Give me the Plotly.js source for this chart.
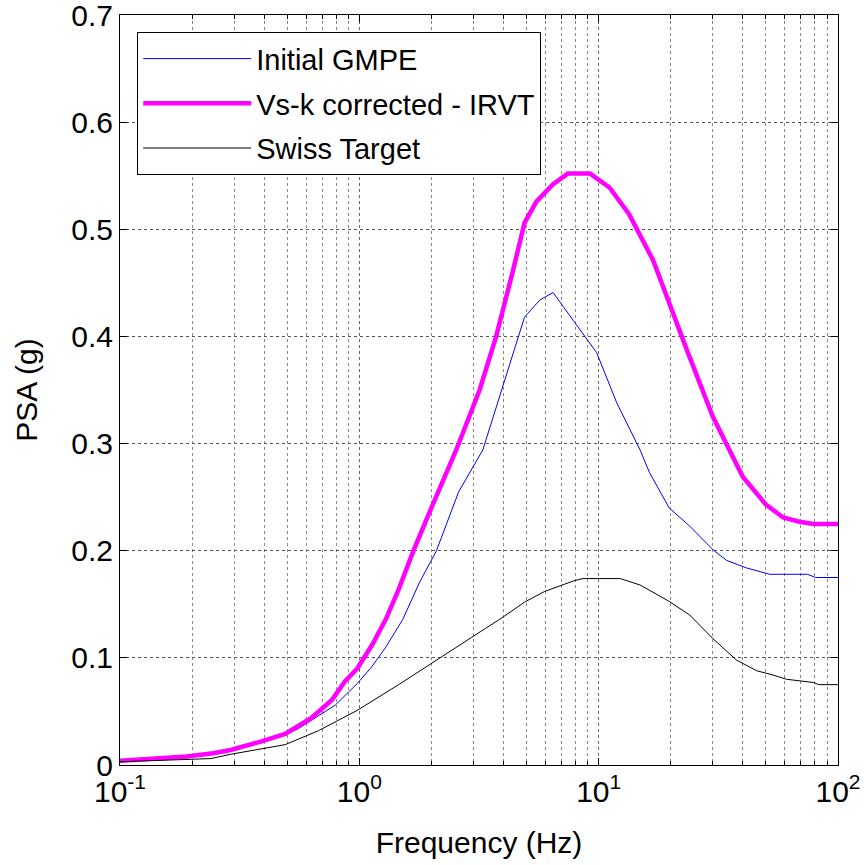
<!DOCTYPE html>
<html>
<head>
<meta charset="utf-8">
<script src="https://cdn.plot.ly/plotly-3.0.1.min.js"></script>
<style>html,body{margin:0;padding:0;background:#fff;}#chart{width:864px;height:865px;}</style>
</head>
<body>
<div id="chart"></div>
<script>
// Initial GMPE (blue)
var gmpeFreq = [0.1, 0.13, 0.19, 0.245, 0.29, 0.39, 0.49, 0.557, 0.794, 0.98, 1.13, 1.29, 1.52, 1.78, 2.1, 2.6, 3.28, 3.9, 4.9, 5.68, 6.45, 7.83, 9.8, 11.9, 14.9, 16.3, 19.7, 24, 30, 34.2, 41.4, 51.8, 74.5, 80.6, 100];
var gmpePSA  = [0.003, 0.005, 0.007, 0.010, 0.013, 0.021, 0.028, 0.034, 0.056, 0.076, 0.092, 0.110, 0.136, 0.170, 0.200, 0.255, 0.294, 0.347, 0.418, 0.434, 0.441, 0.415, 0.385, 0.338, 0.294, 0.273, 0.240, 0.223, 0.201, 0.191, 0.184, 0.178, 0.178, 0.175, 0.175];

// Vs-k corrected - IRVT (magenta)
var irvtFreq = [0.1, 0.13, 0.19, 0.245, 0.29, 0.39, 0.49, 0.63, 0.77, 0.87, 0.98, 1.13, 1.29, 1.46, 1.69, 2.0, 2.54, 3.18, 3.73, 4.38, 4.9, 5.5, 6.45, 7.43, 9.2, 11.1, 13.4, 16.9, 21.7, 23.4, 30, 40, 50, 59, 69, 79, 100];
var irvtPSA  = [0.004, 0.006, 0.008, 0.011, 0.014, 0.022, 0.029, 0.044, 0.061, 0.078, 0.090, 0.112, 0.136, 0.164, 0.201, 0.240, 0.294, 0.350, 0.400, 0.461, 0.506, 0.526, 0.542, 0.552, 0.552, 0.539, 0.514, 0.471, 0.406, 0.387, 0.325, 0.269, 0.243, 0.231, 0.227, 0.225, 0.225];

// Swiss Target (black)
var swissFreq = [0.1, 0.24, 0.29, 0.39, 0.49, 0.675, 0.98, 1.46, 2.16, 2.94, 3.98, 4.9, 5.95, 7.0, 7.9, 8.6, 12.3, 14.9, 19.6, 24, 30, 37.6, 45.7, 53.5, 61, 79, 83, 100];
var swissPSA  = [0.003, 0.006, 0.010, 0.015, 0.019, 0.032, 0.051, 0.075, 0.100, 0.119, 0.138, 0.152, 0.162, 0.168, 0.172, 0.174, 0.174, 0.168, 0.153, 0.140, 0.118, 0.098, 0.088, 0.084, 0.080, 0.077, 0.075, 0.075];

var xTickVals = [0.1, 1, 10, 100];
var xTickText = ['10<sup>-1</sup>', '10<sup>0</sup>', '10<sup>1</sup>', '10<sup>2</sup>'];
var yTickVals = [0, 0.1, 0.2, 0.3, 0.4, 0.5, 0.6, 0.7];
var yTickText = ['0', '0.1', '0.2', '0.3', '0.4', '0.5', '0.6', '0.7'];

var minorX = [];
[0.1, 1, 10].forEach(function (d) { for (var k = 2; k <= 9; k++) minorX.push(d * k); });

var FONT = 'Liberation Sans, Arial, sans-serif';

var traces = [
  {x: gmpeFreq, y: gmpePSA, name: 'Initial GMPE', type: 'scatter', mode: 'lines', legendgroup: 'a',
   line: {color: '#0000ff', width: 1}},
  {x: irvtFreq, y: irvtPSA, name: 'Vs-k corrected - IRVT', type: 'scatter', mode: 'lines', legendgroup: 'b',
   line: {color: '#ff00ff', width: 4.5}},
  {x: swissFreq, y: swissPSA, name: 'Swiss Target', type: 'scatter', mode: 'lines', legendgroup: 'c',
   line: {color: '#000000', width: 1}}
];

var layout = {
  width: 864, height: 865,
  margin: {l: 120, r: 26, t: 15, b: 100},
  paper_bgcolor: '#ffffff', plot_bgcolor: '#ffffff',
  font: {family: FONT, size: 30, color: '#000'},
  showlegend: true,
  legend: {
    x: 0.024, y: 0.977, xanchor: 'left', yanchor: 'top',
    bgcolor: '#ffffff', bordercolor: '#000', borderwidth: 1,
    font: {family: FONT, size: 29, color: '#000'},
    itemwidth: 108,
    traceorder: 'grouped',
    tracegroupgap: 4
  },
  xaxis: {
    type: 'log', range: [-1, 2],
    tickmode: 'array', tickvals: xTickVals, ticktext: xTickText,
    ticks: 'inside', ticklen: 7, tickcolor: '#000', tickwidth: 1,
    showline: true, linecolor: '#000', linewidth: 1, mirror: 'allticks',
    showgrid: true, gridcolor: '#666', griddash: 'dot', gridwidth: 1,
    minor: {tickmode: 'array', tickvals: minorX, ticks: 'inside', ticklen: 4, tickcolor: '#000',
            showgrid: true, gridcolor: '#888', griddash: 'dot', gridwidth: 1},
    zeroline: false,
    ticklabeloverflow: 'allow',
    tickfont: {family: FONT, size: 30},
    title: {text: 'Frequency (Hz)', font: {family: FONT, size: 30}, standoff: 24}
  },
  yaxis: {
    range: [0, 0.7],
    tickmode: 'array', tickvals: yTickVals, ticktext: yTickText,
    ticks: 'inside', ticklen: 7, tickcolor: '#000', tickwidth: 1,
    showline: true, linecolor: '#000', linewidth: 1, mirror: 'allticks',
    showgrid: true, gridcolor: '#555', griddash: 'dot', gridwidth: 1,
    zeroline: false,
    ticklabeloverflow: 'allow',
    tickfont: {family: FONT, size: 30},
    title: {text: 'PSA (g)', font: {family: FONT, size: 30}, standoff: 24}
  }
};

Plotly.newPlot('chart', traces, layout, {displayModeBar: false, staticPlot: true});
</script>
</body>
</html>
